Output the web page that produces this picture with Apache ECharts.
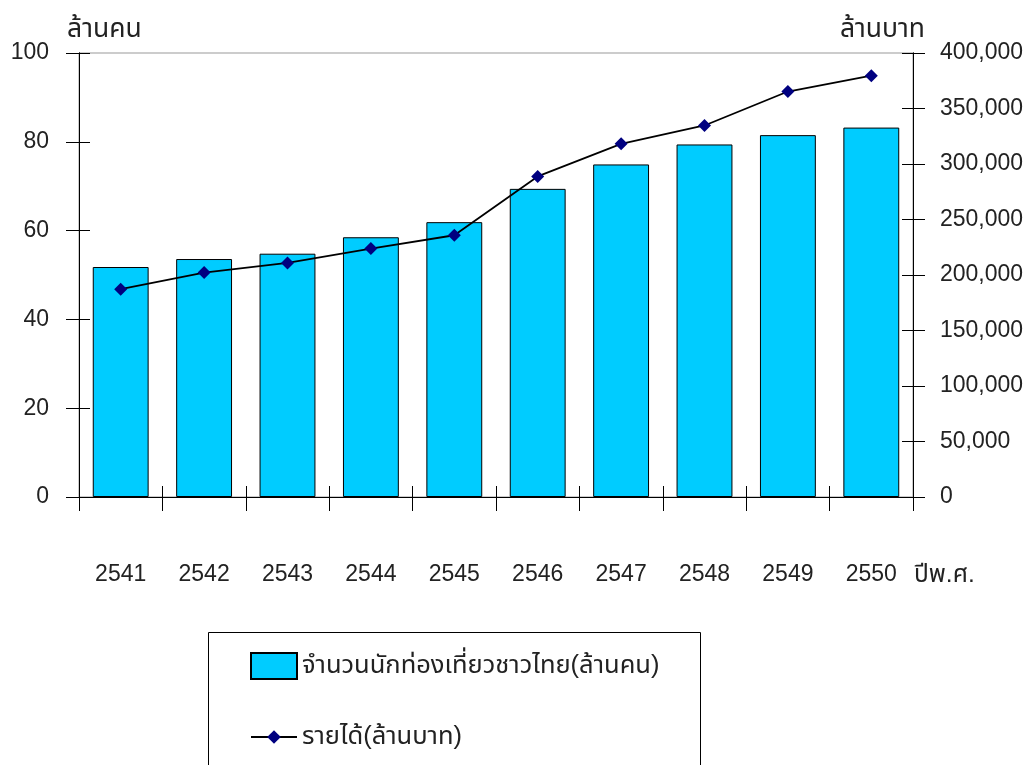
<!DOCTYPE html>
<html><head><meta charset="utf-8">
<script src="https://cdn.jsdelivr.net/npm/echarts@6/dist/echarts.min.js"></script>
<style>html,body{margin:0;padding:0;background:#fff}#c{width:1033px;height:765px}</style>
</head><body><div id="c"></div>
<script>
const years = ['2541','2542','2543','2544','2545','2546','2547','2548','2549','2550'];
const tourists = [51.8, 53.6, 54.8, 58.5, 61.9, 69.4, 74.9, 79.4, 81.5, 83.2];
const revenue = [187200, 202200, 210900, 223800, 235800, 288800, 318200, 334700, 365300, 379600];
const barName = 'จำนวนนักท่องเที่ยวชาวไทย(ล้านคน)';
const lineName = 'รายได้(ล้านบาท)';
const leftUnit = 'ล้านคน';
const rightUnit = 'ล้านบาท';
const xUnit = 'ปีพ.ศ.';

const FONT = "'Liberation Sans', 'Noto Sans Thai', 'Noto Sans', sans-serif";
const TXT = '#222';
const chart = echarts.init(document.getElementById('c'));
const axLine = {show:true, lineStyle:{color:'#000', width:1}};
chart.setOption({
  animation:false,
  textStyle:{fontFamily:FONT},
  grid:{left:79, right:120, top:53, bottom:268, show:true, borderColor:'#999', borderWidth:1, backgroundColor:'transparent'},
  legend:[
    {left:250, top:652, padding:0, itemWidth:46, itemHeight:26, itemGap:0,
     textStyle:{fontSize:25.5, color:TXT, fontFamily:FONT},
     data:[{name:barName, icon:'rect'}]},
    {left:250, top:724, padding:0, itemWidth:46, itemHeight:17, itemGap:0,
     textStyle:{fontSize:25.5, color:TXT, fontFamily:FONT},
     data:[{name:lineName}]}
  ],
  xAxis:[
    {type:'category', data:years, position:'bottom',
     axisLine:axLine, axisTick:{show:true, alignWithLabel:false, length:14, lineStyle:{color:'#000'}},
     axisLabel:{fontSize:23, color:TXT, margin:66, fontFamily:FONT},
     splitLine:{show:false}},
    {type:'category', data:years, position:'bottom',
     axisLine:axLine, axisTick:{show:true, inside:true, alignWithLabel:false, length:11, lineStyle:{color:'#000'}},
     axisLabel:{show:false}, splitLine:{show:false}}
  ],
  yAxis:[
    {type:'value', min:0, max:100, interval:20, position:'left',
     axisLine:axLine, axisTick:{show:true, length:13, lineStyle:{color:'#000'}},
     axisLabel:{fontSize:23, color:TXT, margin:30, fontFamily:FONT}, splitLine:{show:false}},
    {type:'value', min:0, max:400000, interval:50000, position:'right',
     axisLine:axLine, axisTick:{show:true, length:12, lineStyle:{color:'#000'}},
     axisLabel:{fontSize:23, color:TXT, margin:27, fontFamily:FONT,
       formatter:v=>v.toLocaleString('en-US')}, splitLine:{show:false}},
    {type:'value', min:0, max:100, interval:20, position:'left',
     axisLine:axLine, axisTick:{show:true, inside:true, length:11, lineStyle:{color:'#000'}},
     axisLabel:{show:false}, splitLine:{show:false}},
    {type:'value', min:0, max:400000, interval:50000, position:'right',
     axisLine:axLine, axisTick:{show:true, inside:true, length:11, lineStyle:{color:'#000'}},
     axisLabel:{show:false}, splitLine:{show:false}}
  ],
  graphic:[
    {type:'rect', left:208, top:632, shape:{width:492, height:160}, z:-1,
     style:{fill:'#fff', stroke:'#000', lineWidth:1}},
    {type:'text', left:67, top:16, style:{text:leftUnit, fill:TXT, font:'26.5px '+FONT}},
    {type:'text', right:108, top:16, style:{text:rightUnit, fill:TXT, font:'26.5px '+FONT}},
    {type:'text', left:914, top:563, style:{text:xUnit, fill:TXT, font:'24.5px '+FONT}}
  ],
  series:[
    {name:barName, type:'bar', data:tourists, xAxisIndex:0, yAxisIndex:0,
     barCategoryGap:'33%',
     itemStyle:{color:'#00CCFF', borderColor:'#000', borderWidth:1}},
    {name:lineName, type:'line', data:revenue, xAxisIndex:0, yAxisIndex:1,
     symbol:'diamond', symbolSize:13,
     lineStyle:{color:'#000', width:1.8},
     itemStyle:{color:'#000080'}}
  ]
});
</script></body></html>
